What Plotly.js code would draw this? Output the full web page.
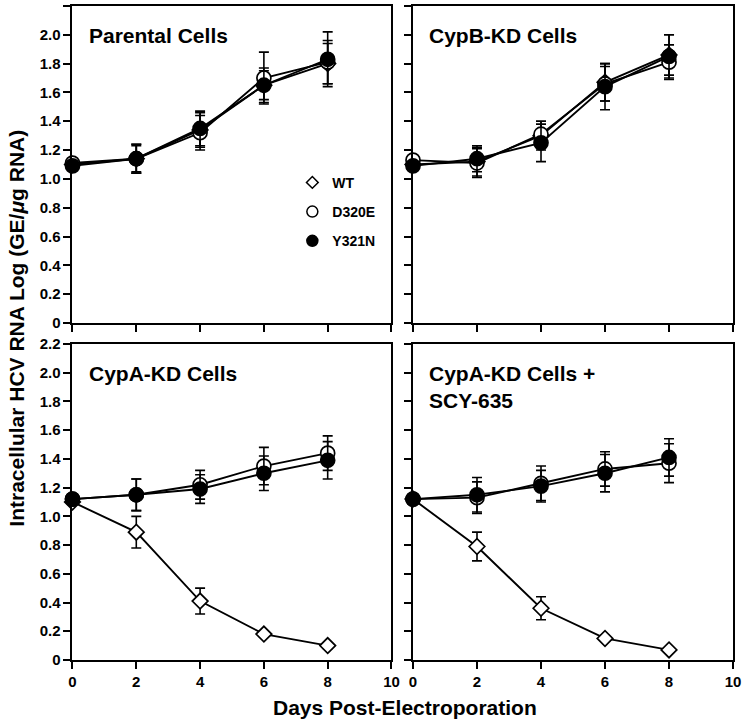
<!DOCTYPE html>
<html>
<head>
<meta charset="utf-8">
<script src="https://cdn.plot.ly/plotly-3.0.1.min.js"></script>
<style>html,body{margin:0;padding:0;background:#fff;}#chart{width:742px;height:719px;}</style>
</head>
<body>
<div id="chart"></div>
<script>
// ---- data ----
var days = [0, 2, 4, 6, 8];
var seriesNames = ["WT", "D320E", "Y321N"];
var panelTitles = ["Parental Cells", "CypB-KD Cells", "CypA-KD Cells", "CypA-KD Cells +<br>SCY-635"];
var yTickVals = [0, 0.2, 0.4, 0.6, 0.8, 1.0, 1.2, 1.4, 1.6, 1.8, 2.0, 2.2];
var yTickText = ["0", "0.2", "0.4", "0.6", "0.8", "1.0", "1.2", "1.4", "1.6", "1.8", "2.0", "2.2"];
var xTickVals = [0, 2, 4, 6, 8, 10];

// Parental
var parWT = [1.10, 1.14, 1.34, 1.65, 1.80];
var parWTerr = [0.02, 0.10, 0.12, 0.12, 0.14];
var parD320E = [1.11, 1.14, 1.32, 1.70, 1.81];
var parD320Eerr = [0.02, 0.10, 0.12, 0.18, 0.15];
var parY321N = [1.09, 1.14, 1.35, 1.65, 1.83];
var parY321Nerr = [0.02, 0.09, 0.12, 0.10, 0.19];
// CypB-KD
var cybWT = [1.10, 1.12, 1.30, 1.67, 1.86];
var cybWTerr = [0.02, 0.10, 0.10, 0.13, 0.14];
var cybD320E = [1.13, 1.11, 1.31, 1.66, 1.81];
var cybD320Eerr = [0.02, 0.10, 0.09, 0.12, 0.12];
var cybY321N = [1.09, 1.14, 1.25, 1.64, 1.85];
var cybY321Nerr = [0.02, 0.09, 0.13, 0.16, 0.15];
// CypA-KD
var cyaWT = [1.10, 0.89, 0.41, 0.18, 0.10];
var cyaWTerr = [0.00, 0.11, 0.09, 0.02, 0.02];
var cyaD320E = [1.12, 1.15, 1.22, 1.35, 1.44];
var cyaD320Eerr = [0.02, 0.11, 0.10, 0.13, 0.12];
var cyaY321N = [1.12, 1.15, 1.19, 1.30, 1.39];
var cyaY321Nerr = [0.02, 0.11, 0.10, 0.12, 0.13];
// CypA-KD + SCY-635
var scyWT = [1.12, 0.79, 0.36, 0.15, 0.07];
var scyWTerr = [0.00, 0.10, 0.08, 0.02, 0.02];
var scyD320E = [1.12, 1.13, 1.23, 1.33, 1.37];
var scyD320Eerr = [0.02, 0.11, 0.12, 0.12, 0.135];
var scyY321N = [1.12, 1.15, 1.21, 1.30, 1.41];
var scyY321Nerr = [0.02, 0.12, 0.11, 0.13, 0.13];

var panels = [
  {xa: "x", ya: "y", s: [[parWT, parWTerr], [parD320E, parD320Eerr], [parY321N, parY321Nerr]]},
  {xa: "x2", ya: "y2", s: [[cybWT, cybWTerr], [cybD320E, cybD320Eerr], [cybY321N, cybY321Nerr]]},
  {xa: "x3", ya: "y3", s: [[cyaWT, cyaWTerr], [cyaD320E, cyaD320Eerr], [cyaY321N, cyaY321Nerr]]},
  {xa: "x4", ya: "y4", s: [[scyWT, scyWTerr], [scyD320E, scyD320Eerr], [scyY321N, scyY321Nerr]]}
];

var markerStyles = [
  {symbol: "diamond", size: 12, color: "#ffffff", line: {color: "#000", width: 1.7}},
  {symbol: "circle", size: 14, color: "#ffffff", line: {color: "#000", width: 1.7}},
  {symbol: "circle", size: 14, color: "#000000", line: {color: "#000", width: 1.7}}
];
var legendMarkers = [
  {symbol: "diamond", size: 9, color: "#ffffff", line: {color: "#000", width: 1.5}},
  {symbol: "circle", size: 11, color: "#ffffff", line: {color: "#000", width: 1.5}},
  {symbol: "circle", size: 11, color: "#000000", line: {color: "#000", width: 1.5}}
];

var traces = [];
panels.forEach(function (p) {
  p.s.forEach(function (ser, i) {
    traces.push({
      type: "scatter", mode: "lines+markers",
      x: days, y: ser[0], xaxis: p.xa, yaxis: p.ya,
      line: {color: "#000", width: 1.9},
      marker: markerStyles[i],
      error_y: {type: "data", array: ser[1], visible: true, color: "#000", thickness: 1.6, width: 5},
      cliponaxis: false, showlegend: false, hoverinfo: "skip"
    });
  });
});
// legend entries (markers only)
seriesNames.forEach(function (n, i) {
  traces.push({
    type: "scatter", mode: "markers", x: [null], y: [null], xaxis: "x", yaxis: "y",
    name: n, marker: legendMarkers[i], showlegend: true, legendgroup: n
  });
});

var fontFam = "Liberation Sans, Arial, sans-serif";
function xax(domain, anchor, showLabels) {
  return {
    domain: domain, anchor: anchor, range: [0, 10], tickvals: xTickVals,
    showticklabels: showLabels, ticks: "outside", ticklen: 7, tickwidth: 2, tickcolor: "#000",
    showline: true, linewidth: 2, linecolor: "#000", mirror: true, showgrid: false, zeroline: false,
    tickfont: {family: fontFam, size: 15, color: "#000", weight: "bold"}, fixedrange: true
  };
}
function yax(domain, anchor, showLabels) {
  return {
    domain: domain, anchor: anchor, range: [0, 2.2], tickvals: yTickVals, ticktext: yTickText,
    showticklabels: showLabels, ticks: "outside", ticklen: 7, tickwidth: 2, tickcolor: "#000",
    showline: true, linewidth: 2, linecolor: "#000", mirror: true, showgrid: false, zeroline: false,
    tickfont: {family: fontFam, size: 15, color: "#000", weight: "bold"}, fixedrange: true
  };
}
var xL = [0.0977, 0.5276], xR = [0.5566, 0.9879];
var yT = [0.5508, 0.9917], yB = [0.0821, 0.5216];

var titleFont = {family: fontFam, size: 21, color: "#000", weight: "bold"};
var annotations = [];
var refs = [["x domain", "y domain"], ["x2 domain", "y2 domain"], ["x3 domain", "y3 domain"], ["x4 domain", "y4 domain"]];
panelTitles.forEach(function (t, i) {
  annotations.push({
    text: t, xref: refs[i][0], yref: refs[i][1], x: 0.045, y: 0.95,
    xanchor: "left", yanchor: "top", showarrow: false, align: "left", font: titleFont
  });
});
annotations.push({
  text: "Intracellular HCV RNA Log (GE/<i>μ</i>g RNA)", xref: "paper", yref: "paper",
  x: 0.023, y: 0.543, textangle: -90, showarrow: false, xanchor: "center", yanchor: "middle",
  font: {family: fontFam, size: 21, color: "#000", weight: "bold"}
});
annotations.push({
  text: "Days Post-Electroporation", xref: "paper", yref: "paper",
  x: 0.546, y: 0.0153, showarrow: false, xanchor: "center", yanchor: "middle",
  font: {family: fontFam, size: 21, color: "#000", weight: "bold"}
});

var layout = {
  width: 742, height: 719, margin: {l: 0, r: 0, t: 0, b: 0},
  paper_bgcolor: "#fff", plot_bgcolor: "#fff",
  xaxis: xax(xL, "y", false), yaxis: yax(yT, "x", true),
  xaxis2: xax(xR, "y2", false), yaxis2: yax(yT, "x2", false),
  xaxis3: xax(xL, "y3", true), yaxis3: yax(yB, "x3", true),
  xaxis4: xax(xR, "y4", true), yaxis4: yax(yB, "x4", false),
  showlegend: true,
  legend: {x: 0.394, y: 0.768, xanchor: "left", yanchor: "top", bgcolor: "rgba(0,0,0,0)",
           font: {family: fontFam, size: 14, color: "#000", weight: "bold"},
           tracegroupgap: 8, itemwidth: 30},
  annotations: annotations
};
Plotly.newPlot("chart", traces, layout, {staticPlot: true});
</script>
</body>
</html>
